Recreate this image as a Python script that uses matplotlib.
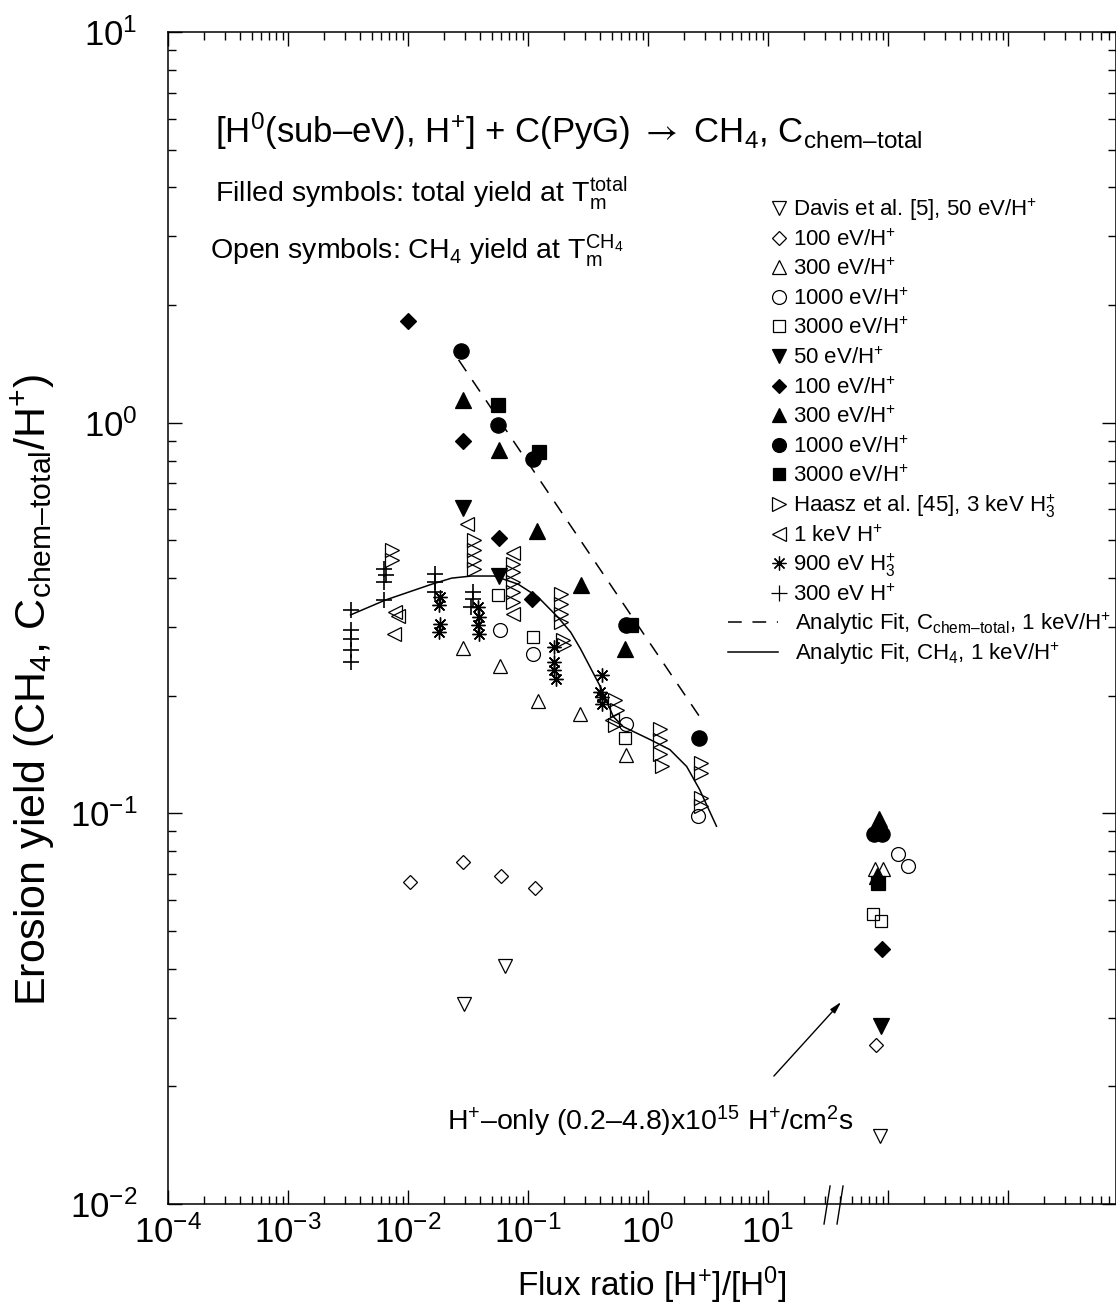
import numpy as np
import matplotlib
matplotlib.use('Agg')
import matplotlib.pyplot as plt
from matplotlib.ticker import FixedLocator, FuncFormatter, LogLocator, NullFormatter
import matplotlib.transforms as mtransforms

plt.rcParams['font.family'] = ['Liberation Sans', 'DejaVu Sans']
plt.rcParams['mathtext.fontset'] = 'custom'
plt.rcParams['mathtext.rm'] = 'Liberation Sans'
plt.rcParams['mathtext.it'] = 'Liberation Sans:italic'
plt.rcParams['mathtext.bf'] = 'Liberation Sans:bold'
plt.rcParams['mathtext.sf'] = 'STIXGeneral'
plt.rcParams['mathtext.default'] = 'regular'

# ---------------- data (flux ratio, erosion yield) ----------------
# H+-only measurements are placed at flux ratio ~ 80-150 (right of the axis break)
davis50_open_x = [0.0295, 0.0645, 86.0]
davis50_open_y = [0.0326, 0.0407, 0.0149]

e100_open_x = [0.0104, 0.0285, 0.0598, 0.114, 80.0]
e100_open_y = [0.0667, 0.0750, 0.0691, 0.0644, 0.0256]

e300_open_x = [0.0285, 0.0587, 0.121, 0.269, 0.658, 78.1, 90.9]
e300_open_y = [0.265, 0.2385, 0.1942, 0.1799, 0.1414, 0.0720, 0.0720]

e1000_open_x = [0.0587, 0.110, 0.658, 2.59, 121.0, 146.0]
e1000_open_y = [0.2946, 0.256, 0.1698, 0.0982, 0.0786, 0.0732]

e3000_open_x = [0.0565, 0.110, 0.645, 75.2, 87.5]
e3000_open_y = [0.362, 0.2828, 0.1563, 0.0553, 0.0530]

e50_fill_x = [0.0290, 0.0576, 87.5]
e50_fill_y = [0.603, 0.405, 0.0286]

e100_fill_x = [0.0100, 0.0285, 0.0576, 0.108, 89.2]
e100_fill_y = [1.820, 0.895, 0.506, 0.3535, 0.0450]

e300_fill_x = [0.0290, 0.0576, 0.1187, 0.274, 0.645, 84.3, 80.8]
e300_fill_y = [1.145, 0.853, 0.527, 0.384, 0.2636, 0.0965, 0.0691]

e1000_fill_x = [0.0279, 0.0565, 0.110, 0.658, 2.64, 76.6, 89.2]
e1000_fill_y = [1.527, 0.988, 0.809, 0.3035, 0.1563, 0.0884, 0.0884]

e3000_fill_x = [0.0565, 0.1233, 0.724, 82.6]
e3000_fill_y = [1.111, 0.843, 0.3035, 0.0663]

haasz_x = [0.00738, 0.00738,
           0.0358, 0.0358, 0.0358, 0.0358,
           0.0752, 0.0752, 0.0752, 0.0752, 0.0752,
           0.1874, 0.1874, 0.1874, 0.1874, 0.1946, 0.1985,
           0.533, 0.554, 0.533,
           1.257, 1.257, 1.257, 1.305,
           2.79, 2.79, 2.79, 2.79]
haasz_y = [0.4715, 0.4446,
           0.500, 0.4715, 0.4446, 0.4217,
           0.434, 0.4143, 0.391, 0.368, 0.3474,
           0.364, 0.3433, 0.3237, 0.309, 0.278, 0.270,
           0.1953, 0.1842, 0.1687,
           0.1648, 0.1545, 0.1422, 0.1318,
           0.1342, 0.1265, 0.1092, 0.1042]

kev1_x = [0.00781, 0.00818, 0.00766, 0.0313, 0.0752, 0.0752, 0.504]
kev1_y = [0.3275, 0.3197, 0.2877, 0.549, 0.4634, 0.3237, 0.1738]

h3_900_x = [0.0184, 0.0180, 0.0184, 0.0180, 0.0386, 0.0394, 0.0386, 0.0394,
            0.164, 0.164, 0.164, 0.170, 0.417, 0.401, 0.417, 0.417]
h3_900_y = [0.3577, 0.3413, 0.3053, 0.2911, 0.3374, 0.318, 0.3035, 0.2877,
            0.2667, 0.244, 0.233, 0.221, 0.2263, 0.2048, 0.1988, 0.1909]

h300_x = [0.00332, 0.00332, 0.00332, 0.00332, 0.00332,
          0.00634, 0.0065, 0.00634, 0.00634,
          0.0167, 0.0167, 0.0167,
          0.0351, 0.0351, 0.0338]
h300_y = [0.3315, 0.2946, 0.2795, 0.262, 0.244,
          0.4217, 0.407, 0.391, 0.3514,
          0.4095, 0.391, 0.368,
          0.368, 0.3535, 0.3374]

fit_total_x = [0.0264, 2.69]
fit_total_y = [1.448, 0.1768]

fit_ch4_x = [0.00332, 0.00646, 0.0158, 0.0231, 0.0338, 0.0524, 0.0827, 0.121,
             0.177, 0.2266, 0.274, 0.401, 0.514, 0.621, 1.039, 1.52, 2.10, 2.69, 3.72]
fit_ch4_y = [0.322, 0.3514, 0.386, 0.400, 0.405, 0.405, 0.386, 0.358,
             0.318, 0.291, 0.2636, 0.2109, 0.1768, 0.1667, 0.1545, 0.1456, 0.1318, 0.1151, 0.0927]

x_major = [1e-4, 1e-3, 1e-2, 1e-1, 1e0, 1e1, 1e2, 1e3]
y_major = [1e-2, 1e-1, 1e0, 1e1]

# ---------------- figure ----------------
W, H = 1116, 1307
fig = plt.figure(figsize=(W / 100, H / 100), dpi=100)
L, R, T, B = 168, 1116, 32, 1204
ax = fig.add_axes([L / W, 1 - B / H, (R - L) / W, (B - T) / H])
ax.set_xscale('log')
ax.set_yscale('log')
ax.set_xlim(1e-4, 10 ** 3.9)
ax.set_ylim(1e-2, 1e1)

def axx(px):
    return (px - L) / (R - L)

def axy(py):
    return (B - py) / (B - T)

for s in ax.spines.values():
    s.set_linewidth(1.1)

ax.xaxis.set_major_locator(FixedLocator(x_major))
ax.xaxis.set_major_formatter(FuncFormatter(
    lambda v, p: ('$10^{%d}$' % round(np.log10(v))) if v <= 10.5 else ''))
ax.xaxis.set_minor_locator(LogLocator(base=10, subs=np.arange(2, 10), numticks=30))
ax.xaxis.set_minor_formatter(NullFormatter())
ax.yaxis.set_major_locator(FixedLocator(y_major))
ax.yaxis.set_major_formatter(FuncFormatter(lambda v, p: '$10^{%d}$' % round(np.log10(v))))
ax.yaxis.set_minor_locator(LogLocator(base=10, subs=np.arange(2, 10), numticks=30))
ax.yaxis.set_minor_formatter(NullFormatter())
ax.tick_params(which='both', direction='in', top=True, right=True, width=1.0)
ax.tick_params(which='major', length=10, labelsize=25)
ax.tick_params(which='minor', length=5.5)
ax.tick_params(axis='x', which='major', pad=8)
ax.tick_params(axis='y', which='major', pad=22)

# fits
ax.plot(fit_total_x, fit_total_y, color='k', lw=1.1, dashes=(9, 7))
ax.plot(fit_ch4_x, fit_ch4_y, color='k', lw=1.1)

MEW = 0.9
def pts(x, y, marker, filled, ms):
    ax.plot(x, y, linestyle='none', marker=marker, ms=ms,
            mfc='k' if filled else 'none', mec='k', mew=MEW, clip_on=False)

pts(davis50_open_x, davis50_open_y, 'v', False, 10)
pts(e100_open_x, e100_open_y, 'D', False, 7.3)
pts(e300_open_x, e300_open_y, '^', False, 10)
pts(e1000_open_x, e1000_open_y, 'o', False, 10)
pts(e3000_open_x, e3000_open_y, 's', False, 8.5)
pts(e50_fill_x, e50_fill_y, 'v', True, 11)
pts(e100_fill_x, e100_fill_y, 'D', True, 8)
pts(e300_fill_x, e300_fill_y, '^', True, 11)
pts(e1000_fill_x, e1000_fill_y, 'o', True, 11)
pts(e3000_fill_x, e3000_fill_y, 's', True, 9.5)
pts(haasz_x, haasz_y, '>', False, 10)
pts(kev1_x, kev1_y, '<', False, 10)
ax.plot(h3_900_x, h3_900_y, linestyle='none', marker=(8, 2, 0), ms=10, mec='k', mew=1.0)
ax.plot(h300_x, h300_y, linestyle='none', marker='+', ms=11, mec='k', mew=1.2)

# ---------------- texts ----------------
ax.text(axx(215), axy(143),
        r'[H$^{0}$(sub–eV), H$^{+}$] + C(PyG) $\mathsf{\rightarrow}$ CH$_{4}$, C$_{chem–total}$',
        transform=ax.transAxes, fontsize=25, ha='left', va='baseline')
ax.text(axx(215), axy(201), 'Filled symbols: total yield at T$_{m}^{total}$',
        transform=ax.transAxes, fontsize=20.5, ha='left', va='baseline')
ax.text(axx(210), axy(259), 'Open symbols: CH$_{4}$ yield at T$_{m}^{CH_4}$',
        transform=ax.transAxes, fontsize=20.5, ha='left', va='baseline')

# legend (drawn as key markers + labels)
legend_entries = [
    ('v', False, 'Davis et al. [5], 50 eV/H$^{+}$'),
    ('D', False, '100 eV/H$^{+}$'),
    ('^', False, '300 eV/H$^{+}$'),
    ('o', False, '1000 eV/H$^{+}$'),
    ('s', False, '3000 eV/H$^{+}$'),
    ('v', True, '50 eV/H$^{+}$'),
    ('D', True, '100 eV/H$^{+}$'),
    ('^', True, '300 eV/H$^{+}$'),
    ('o', True, '1000 eV/H$^{+}$'),
    ('s', True, '3000 eV/H$^{+}$'),
    ('>', False, 'Haasz et al. [45], 3 keV H$_{3}^{+}$'),
    ('<', False, '1 keV H$^{+}$'),
    ((8, 2, 0), True, '900 eV H$_{3}^{+}$'),
    ('+', True, '300 eV H$^{+}$'),
]
msizes = {'v': 10, 'D': 7.3, '^': 10, 'o': 10, 's': 8.5, '>': 10, '<': 10, '+': 11}
row0, drow = 208, 29.6
for i, (mk, filled, lab) in enumerate(legend_entries):
    yc = row0 + i * drow
    ms = msizes.get(mk, 10) if not isinstance(mk, tuple) else 10
    ax.plot([axx(779)], [axy(yc)], transform=ax.transAxes, linestyle='none',
            marker=mk, ms=ms, mfc='k' if filled else 'none', mec='k', mew=MEW, clip_on=False)
    ax.text(axx(793), axy(yc + 8), lab, transform=ax.transAxes, fontsize=16,
            ha='left', va='baseline')

line_entries = [((9, 7), 'Analytic Fit, C$_{chem–total}$, 1 keV/H$^{+}$'),
                (None, 'Analytic Fit, CH$_{4}$, 1 keV/H$^{+}$')]
for j, (dash, lab) in enumerate(line_entries):
    yc = row0 + (len(legend_entries) + j) * drow
    kw = dict(dashes=dash) if dash else {}
    ax.plot([axx(728), axx(778)], [axy(yc), axy(yc)], transform=ax.transAxes,
            color='k', lw=1.1, clip_on=False, **kw)
    ax.text(axx(795), axy(yc + 8), lab, transform=ax.transAxes, fontsize=16,
            ha='left', va='baseline')

# annotation for H+-only data
ax.annotate('', xy=(42.2, 0.0333), xytext=(10.8, 0.0210),
            arrowprops=dict(arrowstyle='-|>,head_length=0.7,head_width=0.18',
                            lw=1.0, color='k'))
ax.text(axx(447), axy(1130), 'H$^{+}$–only (0.2–4.8)x10$^{15}$ H$^{+}$/cm$^{2}$s',
        transform=ax.transAxes, fontsize=20.5, ha='left', va='baseline')

# axis break marks
trans = mtransforms.blended_transform_factory(ax.transData, ax.transAxes)
for x0, x1 in [(29.3, 32.9), (37.6, 42.2)]:
    ax.plot([x0, x1], [axy(1224), axy(1186)], transform=trans, color='k', lw=1.0,
            clip_on=False)

# axis labels
fig.text(652 / W, 1 - 1285 / H, 'Flux ratio [H$^{+}$]/[H$^{0}$]', fontsize=24,
         ha='center', va='center')
fig.text(33 / W, 1 - 690 / H, 'Erosion yield (CH$_{4}$, C$_{chem–total}$/H$^{+}$)',
         fontsize=31, ha='center', va='center', rotation=90)

fig.savefig('out.png', dpi=100)
